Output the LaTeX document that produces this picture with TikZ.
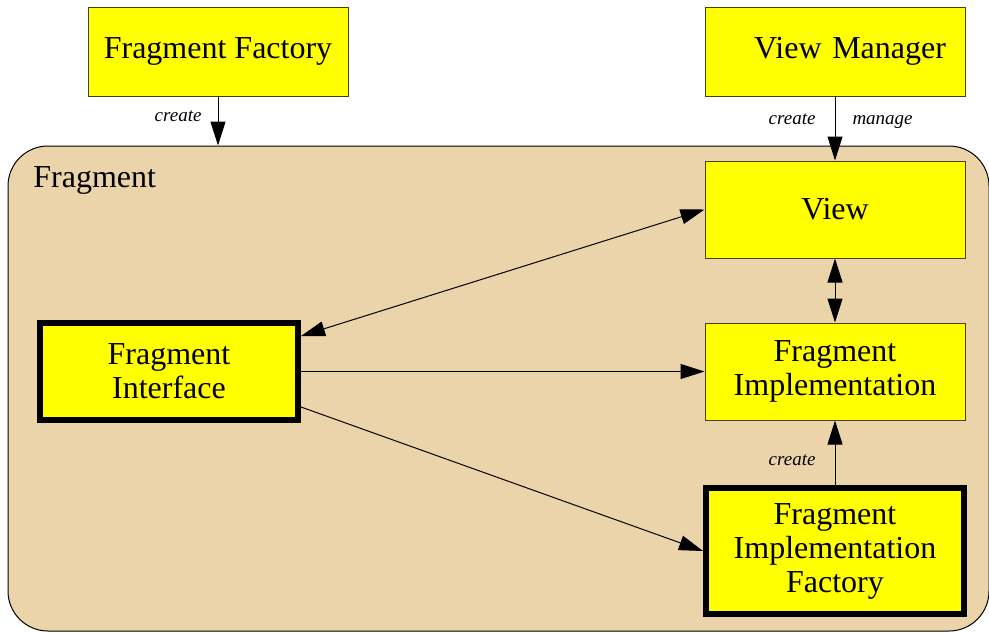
\documentclass[tikz,border=0pt]{standalone}
\usepackage{fontspec}
\setmainfont{Liberation Serif}
\usetikzlibrary{arrows.meta}
\definecolor{clusterfill}{RGB}{236,212,170}
\definecolor{boxfill}{RGB}{255,255,0}
\definecolor{boxline}{RGB}{70,64,20}
\begin{document}
\begin{tikzpicture}[x=0.5pt,y=-0.5pt,
  box/.style={draw=boxline, line width=0.5pt, fill=boxfill, minimum width=130pt,
    minimum height=48.5pt, align=center, inner sep=0pt,
    font=\fontsize{16}{17}\selectfont},
  keybox/.style={box, draw=black, line width=3pt, minimum width=129pt},
  flowarrow/.style={line width=0.5pt, -{Triangle[length=12pt,width=7.5pt]}},
  bothways/.style={line width=0.5pt,
    {Triangle[length=12pt,width=7.5pt]}-{Triangle[length=12pt,width=7.5pt]}},
  edgelbl/.style={font=\fontsize{9.5}{11}\selectfont\itshape, inner sep=0pt}
]
\useasboundingbox (0,0) rectangle (989,632);

% the Fragment cluster
\node[draw=black, line width=0.5pt, fill=clusterfill, rounded corners=20pt,
      minimum width=490.5pt, minimum height=242.5pt, inner sep=0pt]
  (frag) at (498.5,388.5) {};
\node[anchor=base west, inner sep=0pt, font=\fontsize{16}{17}\selectfont]
  (fraglbl) at (33,187) {Fragment};

% outside boxes
\node[box, minimum height=44.5pt] (ff) at (218,51.5) {Fragment Factory};
\node[box, minimum height=44.5pt, text width=111pt, align=right, inner xsep=9.5pt]
  (vm) at (835,51.5) {View Manager};

% boxes inside the cluster
\node[box] (view) at (835,209.5) {View};
\node[box] (impl) at (835,371.5) {Fragment\\Implementation};
\node[keybox, minimum height=63pt] (ifac) at (835,551)
  {Fragment\\Implementation\\Factory};
\node[keybox] (iface) at (169,371.5) {Fragment\\Interface};

% connectors
\draw[flowarrow] (ff.south) -- (ff.south |- frag.north)
  node[edgelbl, pos=0.52, anchor=base east, xshift=-8pt] (lffc) {create};
\draw[flowarrow] (vm.south) -- (view.north)
  node[edgelbl, pos=0.43, anchor=base east, xshift=-9.5pt] (lvmc) {create}
  node[edgelbl, pos=0.43, anchor=base west, xshift=8.5pt] (lvmm) {manage};
\draw[bothways] ([yshift=17.75pt]iface.east) -- (view.west);
\draw[flowarrow] (iface.east) -- (impl.west);
\draw[flowarrow] ([yshift=-17.75pt]iface.east) -- (ifac.west);
\draw[bothways] (view.south) -- (impl.north);
\draw[flowarrow] (ifac.north) -- (impl.south)
  node[edgelbl, pos=0.31, anchor=base east, xshift=-9.5pt] (lifc) {create};
\end{tikzpicture}
\end{document}
